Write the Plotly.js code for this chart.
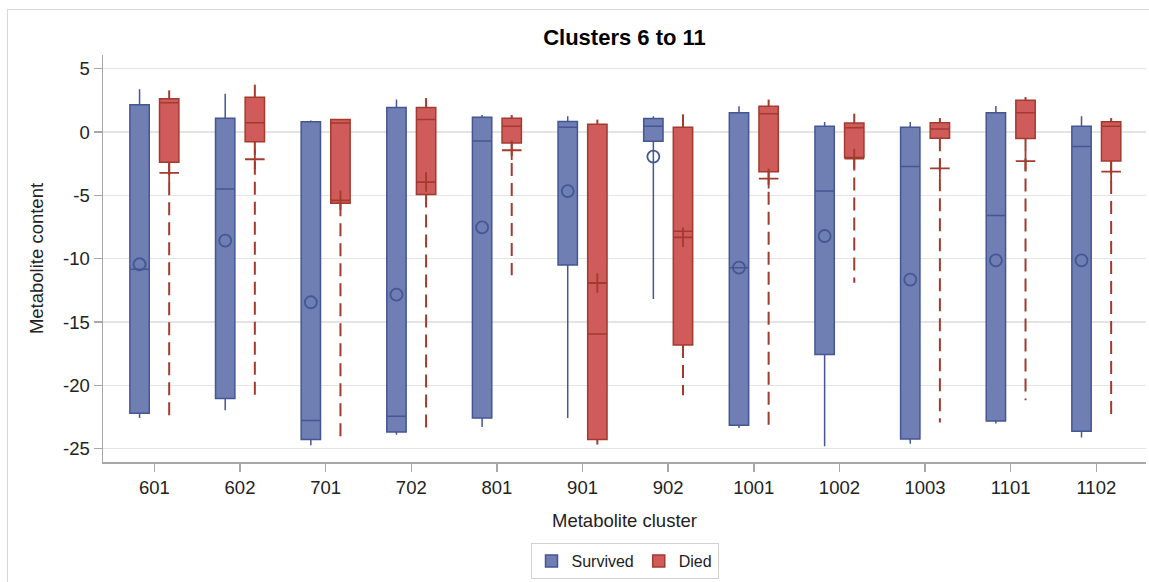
<!DOCTYPE html>
<html>
<head>
<meta charset="utf-8">
<script src="https://cdn.plot.ly/plotly-3.0.1.min.js"></script>
<style>
  html, body { margin: 0; padding: 0; background: #fff; }
  #wrap { position: relative; width: 1149px; height: 582px; overflow: hidden; }
  #chart { position: absolute; left: 0; top: 0; width: 1149px; height: 582px; }
  #frame { position: absolute; left: 7px; top: 9px; width: 1160px; height: 600px;
           border-left: 1px solid #d8d8d8; border-top: 1px solid #d8d8d8; pointer-events: none; }
</style>
</head>
<body>
<div id="wrap">
  <div id="chart"></div>
  <div id="frame"></div>
</div>
<script>
// ---- Data ----
const categories = ['601','602','701','702','801','901','902','1001','1002','1003','1101','1102'];

// Survived
const survLower  = [-22.57, -21.96, -24.73, -23.89, -23.28, -22.57, -13.18, -23.36, -24.81, -24.60, -23.01, -24.12];
const survQ1     = [-22.20, -21.04, -24.28, -23.68, -22.57, -10.50,  -0.73, -23.15, -17.57, -24.23, -22.81, -23.62];
const survMedian = [-10.84,  -4.50, -22.78, -22.44,  -0.71,   0.37,   0.45, -10.72,  -4.66,  -2.73,  -6.60,  -1.15];
const survQ3     = [  2.16,   1.08,   0.82,   1.93,   1.16,   0.84,   1.06,   1.53,   0.45,   0.37,   1.53,   0.45];
const survUpper  = [  3.37,   3.03,   0.90,   2.56,   1.34,   1.24,   1.24,   2.03,   0.79,   0.79,   2.05,   1.24];
const survMean   = [-10.44,  -8.57, -13.44, -12.84,  -7.52,  -4.66,  -1.94, -10.70,  -8.21, -11.65, -10.13, -10.13];

// Died
const diedLower  = [-22.57, -21.04, -24.33, -23.55, -11.31, -24.67, -20.78, -23.28, -11.89, -22.94, -21.17, -22.62];
const diedQ1     = [ -2.39,  -0.76,  -5.63,  -4.94,  -0.87, -24.28, -16.81,  -3.13,  -2.02,  -0.50,  -0.52,  -2.29];
const diedMedian = [  2.32,   0.74,   0.71,   0.98,   0.45, -15.94,  -7.84,   1.45,   0.34,   0.24,   1.53,   0.45];
const diedQ3     = [  2.63,   2.74,   0.98,   1.93,   1.08,   0.61,   0.37,   2.03,   0.71,   0.74,   2.50,   0.82];
const diedUpper  = [  3.29,   3.74,   1.00,   2.68,   1.34,   0.98,   1.58,   2.56,   1.45,   1.10,   2.76,   1.10];
const diedMean   = [ -3.23,  -2.15,  -5.39,  -3.95,  -1.44, -11.92,  -8.31,  -3.68,  -2.10,  -2.87,  -2.29,  -3.13];

const yTicks = [-25, -20, -15, -10, -5, 0, 5];
const yTickLabels = ['-25', '-20', '-15', '-10', '-5', '0', '5'];

// ---- Styles ----
const survFill = '#6F7EB3', survLine = '#445694';
const diedFill = '#D05B5B', diedLine = '#A23A2E';
const offset = 0.173, boxW = 0.226;
const FONT = '"Liberation Sans", Arial, Helvetica, sans-serif';

const idx = categories.map((_, i) => i);
const xs = idx.map(i => i - offset);
const xd = idx.map(i => i + offset);

// Dashed whiskers for Died
const dwx = [], dwy = [];
idx.forEach(i => {
  dwx.push(xd[i], xd[i], null, xd[i], xd[i], null);
  dwy.push(diedQ3[i], diedUpper[i], null, diedQ1[i], diedLower[i], null);
});

const traces = [
  {
    type: 'box', name: 'Survived', x: xs,
    q1: survQ1, median: survMedian, q3: survQ3,
    lowerfence: survLower, upperfence: survUpper,
    width: boxW, whiskerwidth: 0, boxpoints: false,
    fillcolor: survFill, line: { color: survLine, width: 1.5 },
    hoverinfo: 'skip'
  },
  {
    type: 'box', name: 'Died', x: xd,
    q1: diedQ1, median: diedMedian, q3: diedQ3,
    lowerfence: diedQ1, upperfence: diedQ3,
    width: boxW, whiskerwidth: 0, boxpoints: false,
    fillcolor: diedFill, line: { color: diedLine, width: 1.5 },
    hoverinfo: 'skip'
  },
  {
    type: 'scatter', mode: 'lines', x: dwx, y: dwy, showlegend: false,
    line: { color: diedLine, width: 2, dash: '13px,7px' }, hoverinfo: 'skip', connectgaps: false
  },
  {
    type: 'scatter', mode: 'markers', x: xs, y: survMean, showlegend: false,
    marker: { symbol: 'circle-open', size: 12, color: survLine, line: { width: 1.8, color: survLine } },
    hoverinfo: 'skip'
  },
  {
    type: 'scatter', mode: 'markers', x: xd, y: diedMean, showlegend: false,
    marker: { symbol: 'cross-thin-open', size: 14, color: diedLine, line: { width: 1.8, color: diedLine } },
    hoverinfo: 'skip'
  }
];

const layout = {
  width: 1149, height: 582,
  margin: { l: 103, r: 3, t: 55, b: 120 },
  paper_bgcolor: '#ffffff', plot_bgcolor: '#ffffff',
  font: { family: FONT, color: '#222' },
  showlegend: true,
  title: { text: '<b>Clusters 6 to 11</b>', font: { size: 22, color: '#000', family: FONT },
           x: 0.5, xref: 'paper', xanchor: 'center', y: 0.936, yref: 'container', yanchor: 'middle' },
  xaxis: {
    range: [-0.6, 11.58], tickmode: 'array', tickvals: idx, ticktext: categories,
    showgrid: false, zeroline: false, showline: true, linecolor: '#a8a8a8', linewidth: 1.5,
    ticks: 'outside', ticklen: 8, tickwidth: 1.5, tickcolor: '#a8a8a8',
    tickfont: { size: 18.5, color: '#222' },
    title: { text: 'Metabolite cluster', font: { size: 18.5, color: '#222' }, standoff: 17 }
  },
  yaxis: {
    range: [-26.05, 6.08], tickmode: 'array', tickvals: yTicks, ticktext: yTickLabels,
    showgrid: true, gridcolor: '#e4e4e4', gridwidth: 1.5, zeroline: false,
    showline: true, linecolor: '#a8a8a8', linewidth: 1.5,
    ticks: 'outside', ticklen: 8, tickwidth: 1.5, tickcolor: '#a8a8a8',
    tickfont: { size: 18.5, color: '#222' },
    title: { text: 'Metabolite content', font: { size: 18.5, color: '#222' }, standoff: 14 }
  },
  legend: {
    orientation: 'h', x: 0.5, xanchor: 'center', y: -0.199, yanchor: 'top',
    bordercolor: '#d0d0d0', borderwidth: 1, font: { size: 16, color: '#222' },
    itemwidth: 30, bgcolor: '#ffffff'
  }
};

Plotly.newPlot('chart', traces, layout, { staticPlot: true, displayModeBar: false });
</script>
</body>
</html>
